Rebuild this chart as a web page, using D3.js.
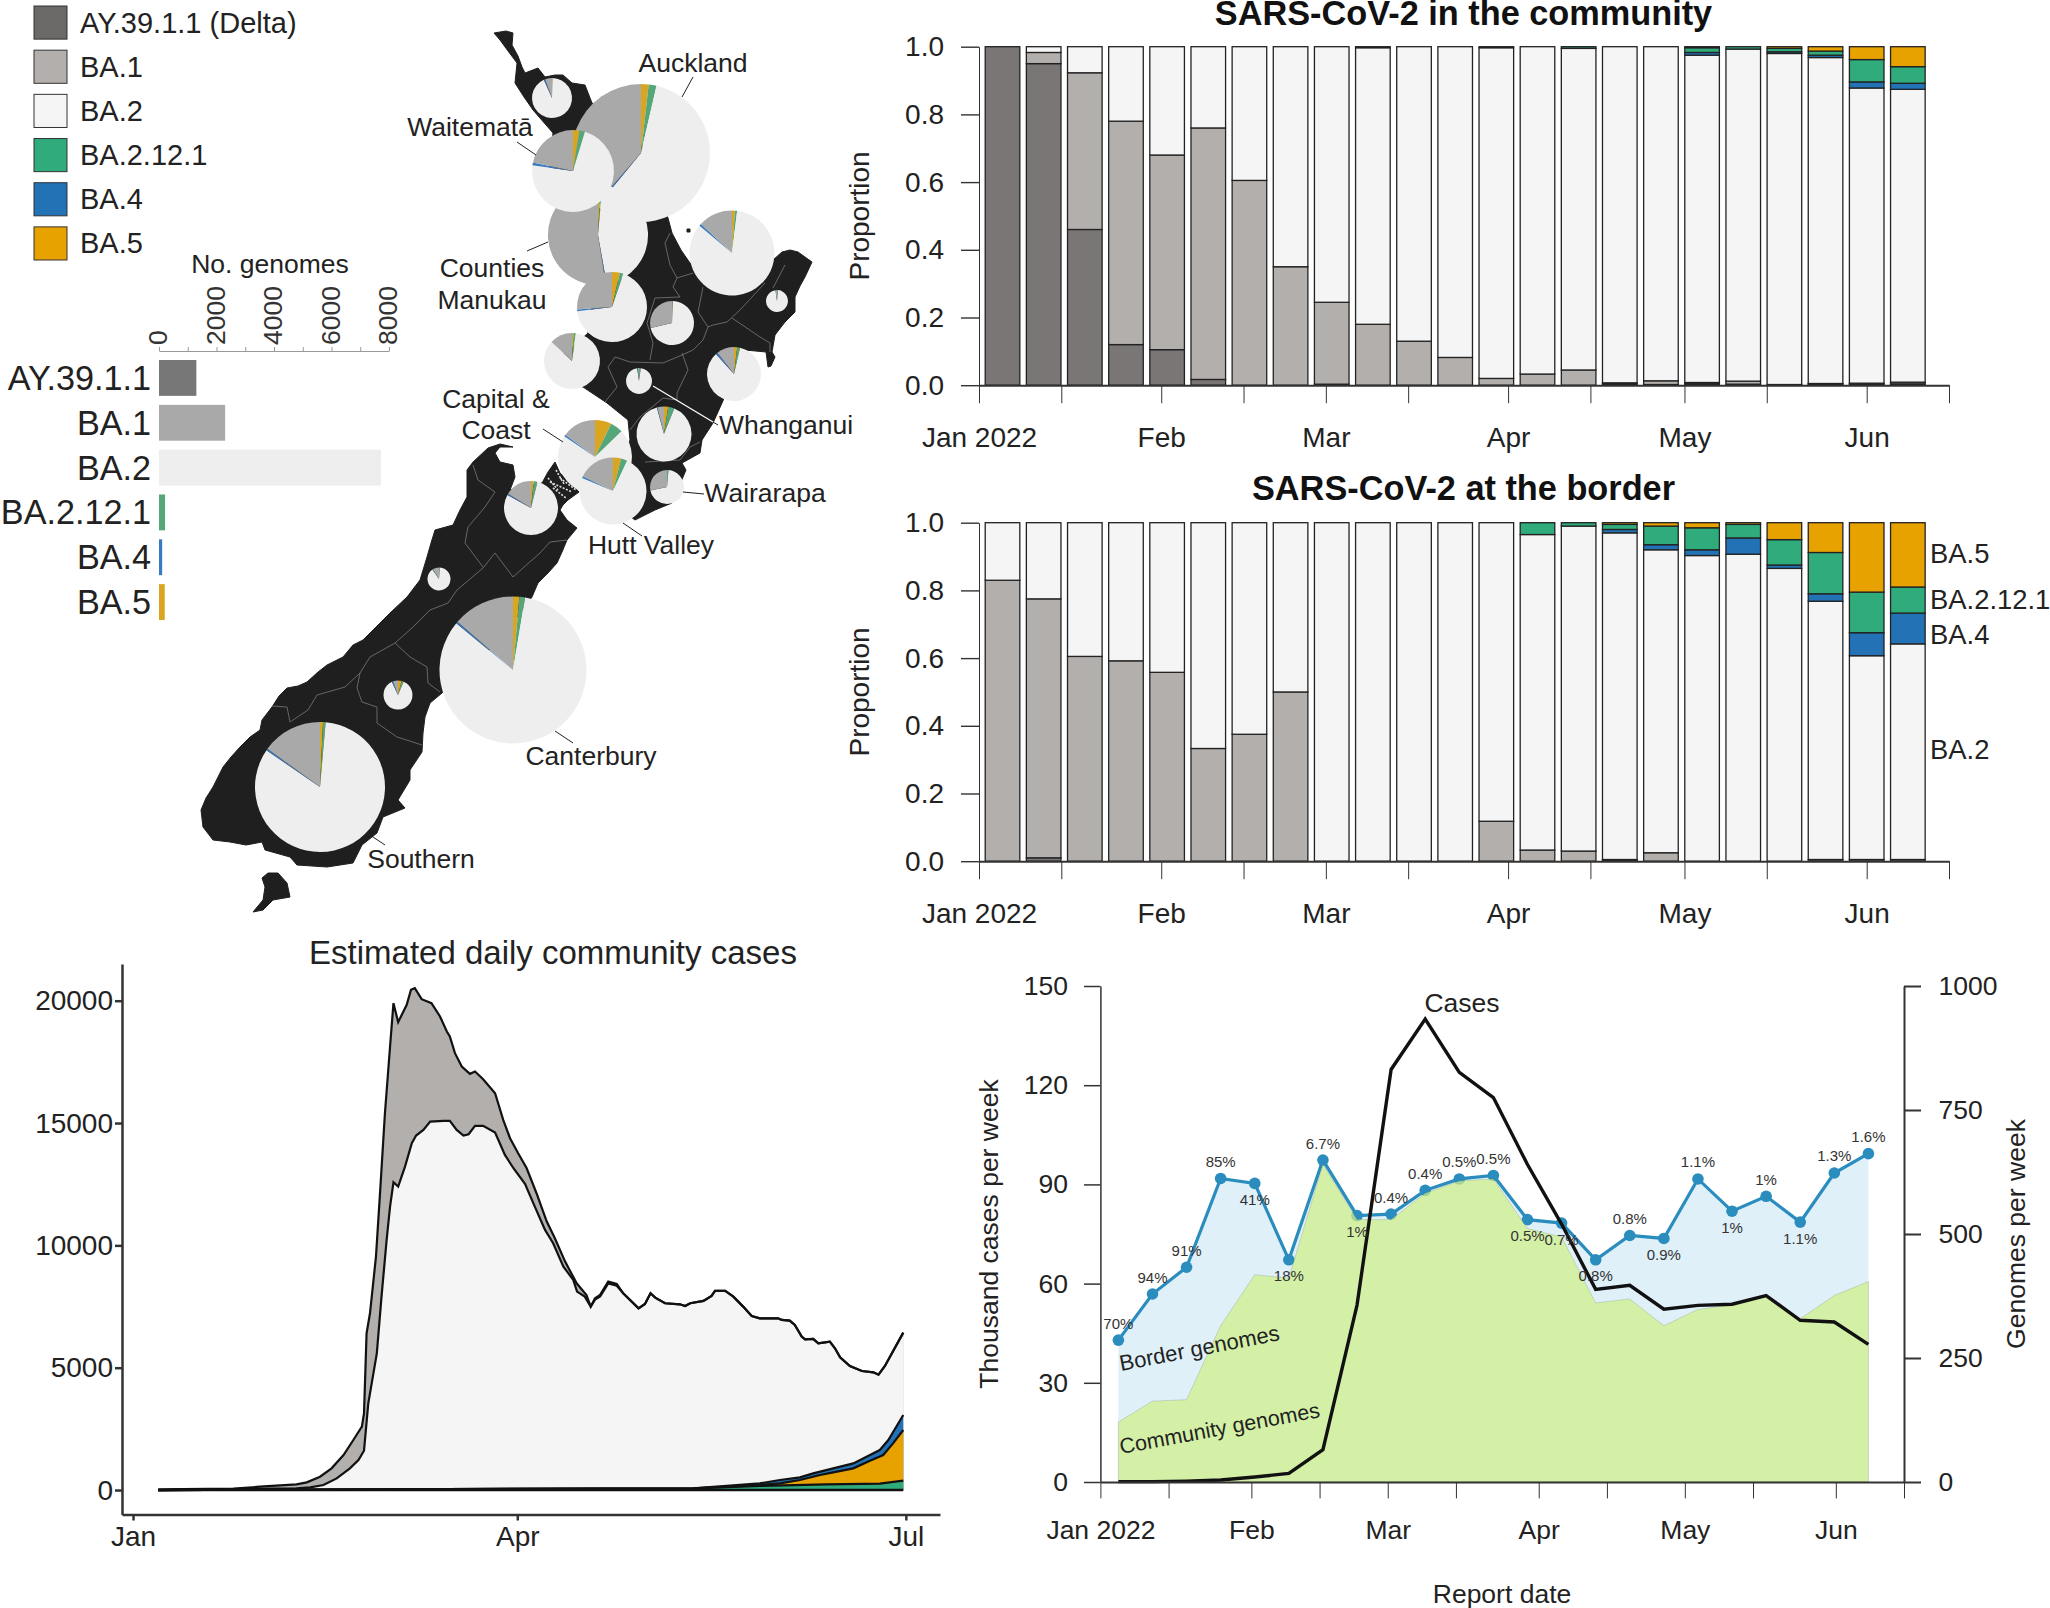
<!DOCTYPE html>
<html>
<head>
<meta charset="utf-8">
<script src="https://cdn.jsdelivr.net/npm/d3@7"></script>
<style>
  html, body { margin: 0; padding: 0; background: #fff; }
  svg { display: block; }
  text { font-family: "Liberation Sans", Arial, sans-serif; fill: #222; }
  .axis path, .axis line { stroke: #333; }
</style>
</head>
<body>
<div id="chart"></div>
<script>
// lineage legend and genome totals
const lineages = ['AY.39.1.1 (Delta)', 'BA.1', 'BA.2', 'BA.2.12.1', 'BA.4', 'BA.5'];
const lineageShort = ['AY.39.1.1', 'BA.1', 'BA.2', 'BA.2.12.1', 'BA.4', 'BA.5'];
const lineageGenomes = [1300, 2300, 7720, 210, 110, 200];
const genomeTicks = [0, 1000, 2000, 3000, 4000, 5000, 6000, 7000, 8000];

// weekly proportions, community
const weeks = ['2022-01-05', '2022-01-12', '2022-01-19', '2022-01-26', '2022-02-02', '2022-02-09', '2022-02-16', '2022-02-23',
  '2022-03-02', '2022-03-09', '2022-03-16', '2022-03-23', '2022-03-30', '2022-04-06', '2022-04-13', '2022-04-20',
  '2022-04-27', '2022-05-04', '2022-05-11', '2022-05-18', '2022-05-25', '2022-06-01', '2022-06-08'];
const commAY = [1, .95, .46, .12, .105, .017, 0, 0, .003, 0, 0, 0, 0, 0, 0, .004, .002, .004, .003, 0, .003, .003, .004];
const commBA1 = [0, .033, .463, .66, .575, .743, .605, .35, .242, .18, .13, .082, .02, .033, .045, .003, .011, .004, .009, .002, .002, .003, .005];
const commBA2 = [0, .017, .077, .22, .32, .24, .395, .65, .755, .817, .87, .918, .977, .967, .95, .993, .987, .967, .981, .978, .963, .872, .865];
const commBA4 = [0, 0, 0, 0, 0, 0, 0, 0, 0, 0, 0, 0, 0, 0, 0, 0, 0, .008, 0, .005, .007, .018, .018];
const commBA212 = [0, 0, 0, 0, 0, 0, 0, 0, 0, .003, 0, 0, .003, 0, .005, 0, 0, .014, .007, .01, .012, .066, .049];
const commBA5 = [0, 0, 0, 0, 0, 0, 0, 0, 0, 0, 0, 0, 0, 0, 0, 0, 0, .003, 0, .005, .013, .038, .059];

// weekly proportions, border
const bordAY = [0, .01, 0, 0, 0, 0, 0, 0, 0, 0, 0, 0, 0, 0, 0, .003, 0, 0, 0, 0, .005, .005, .005];
const bordBA1 = [.83, .765, .605, .592, .558, .333, .375, .5, 0, 0, 0, 0, .118, .033, .03, .002, .025, 0, 0, 0, 0, 0, 0];
const bordBA2 = [.17, .225, .395, .408, .442, .667, .625, .5, 1, 1, 1, 1, .882, .932, .96, .965, .895, .903, .907, .865, .763, .602, .637];
const bordBA4 = [0, 0, 0, 0, 0, 0, 0, 0, 0, 0, 0, 0, 0, 0, 0, .01, .015, .017, .048, .01, .022, .068, .091];
const bordBA212 = [0, 0, 0, 0, 0, 0, 0, 0, 0, 0, 0, 0, 0, .035, .01, .015, .055, .065, .04, .075, .122, .12, .077];
const bordBA5 = [0, 0, 0, 0, 0, 0, 0, 0, 0, 0, 0, 0, 0, 0, 0, .005, .01, .015, .005, .05, .088, .205, .19];

// estimated daily cases (x = days since 1 Jan)
const totalDays = [5.9, 23.5, 29.7, 38.3, 40.7, 43.8, 46.5, 49.3, 51.6, 53.6, 54.1, 54.7, 55.5, 56.9, 57.8, 59, 60.2, 61, 62.1, 64.1, 65.1, 66, 67.6, 69.9, 71.9, 73.5, 74.2, 75.4, 77, 78.9, 80.1, 82, 84.8, 86.7, 88.3, 90.2, 92.2, 94.5, 96.9, 98.8, 101.2, 103.9, 106.2, 107.2, 108.2, 109.4, 111.3, 113.3, 114.8, 118.4, 119.9, 121.2, 122.3, 124.6, 128.1, 129.3, 130.5, 133.6, 135.5, 136.3, 138.7, 140.6, 142.9, 144.9, 146.8, 151.1, 151.9, 153.8, 155, 156.6, 157.4, 159.3, 160.5, 163.2, 164.4, 165.6, 167.9, 170.7, 173.4, 174.6, 176.1, 180.4];
const totalCases = [27, 55, 136, 232, 313, 545, 886, 1431, 2045, 2590, 3135, 6406, 7224, 9541, 11994, 15402, 18128, 19900, 19123, 19832, 20445, 20513, 20063, 19900, 19355, 18741, 18537, 17855, 17310, 17010, 17106, 16792, 16220, 15129, 14380, 13766, 13153, 12131, 10972, 10291, 9337, 8451, 7974, 7497, 7837, 7974, 8519, 8424, 8042, 7428, 7606, 8042, 7864, 7633, 7592, 7524, 7633, 7728, 7933, 8137, 8137, 7905, 7497, 7115, 7020, 7020, 6951, 6924, 6747, 6270, 6161, 6174, 5997, 6065, 5793, 5425, 5070, 4866, 4811, 4716, 5070, 6433];
const ba2Days = [5.9, 38.3, 41.5, 44.6, 47.7, 50.8, 52.8, 54.1, 55.1, 57.1, 58.2, 59.4, 60.2, 61, 62.1, 63.7, 65.3, 66.3, 68, 69.6, 72.7, 74.2, 75.8, 77.4, 78.6, 80.1, 82, 84.8, 87.1, 89.1, 91.8, 94.1, 96.5, 98.4, 100.8, 103.1, 104, 105.8, 107.2, 108.2, 109.4, 111.3, 113.3, 114.8];
const ba2Cases = [0, 68, 109, 204, 477, 886, 1227, 1608, 3544, 5588, 7905, 10222, 11585, 12580, 12403, 13221, 14175, 14489, 14720, 15061, 15088, 15088, 14720, 14489, 14543, 14884, 14884, 14611, 13698, 13153, 12512, 11585, 10631, 10086, 9132, 8587, 8110, 7905, 7497, 7780, 7910, 8440, 8350, 8042];
const ba4Days = [5.9, 131.2, 146.8, 151.5, 156.2, 159.3, 164, 168.7, 172.6, 174.9, 176.9, 180.4];
const ba4Cases = [0, 68, 273, 409, 518, 682, 886, 1090, 1431, 1636, 2045, 3067];
const ba5Days = [5.9, 131.2, 146.8, 151.5, 156.2, 160.9, 164, 168.7, 172.6, 175.7, 178, 180.4];
const ba5Cases = [0, 68, 204, 273, 409, 613, 722, 886, 1199, 1431, 1908, 2453];
const ba212Days = [5.9, 131.2, 146.8, 162.5, 174.9, 180.4];
const ba212Cases = [0, 68, 164, 232, 259, 382];

// genomes and reported cases per week
const borderGenomes = [286, 379, 433, 612, 602, 448, 649, 537, 540, 588, 611, 618, 529, 522, 448, 497, 491, 611, 546, 576, 524, 623, 662];
const communityGenomes = [121, 163, 166, 315, 418, 411, 640, 529, 529, 582, 607, 611, 511, 494, 361, 369, 315, 348, 357, 377, 329, 376, 404];
const weeklyCases = [.1, .1, .25, .6, 1.5, 2.6, 9.75, 53.5, 124.75, 140, 123.9, 116.25, 96, 78, 58.25, 59.5, 52.25, 53.4, 53.75, 56.4, 48.9, 48.4, 41.6];
const samplingLabels = ['70%', '94%', '91%', '85%', '41%', '18%', '6.7%', '1%', '0.4%', '0.4%', '0.5%', '0.5%', '0.5%', '0.7%', '0.8%', '0.8%', '0.9%', '1.1%', '1%', '1%', '1.1%', '1.3%', '1.6%'];
const samplingAbove = [1, 1, 1, 1, 0, 0, 1, 0, 1, 1, 1, 1, 0, 0, 0, 1, 0, 1, 0, 1, 0, 1, 1];

// map
const northIsland = [[494, 33], [506, 31], [513, 33], [512, 45], [518, 56], [522, 67], [525, 73], [538, 68], [545, 77], [555, 75], [563, 75], [572, 83], [585, 85], [592, 103], [640, 140], [668, 218], [672, 233], [681, 250], [690, 263], [730, 280], [763, 283], [769, 270], [773, 260], [782, 252], [790, 250], [798, 252], [812, 262], [805, 277], [800, 286], [795, 297], [795, 312], [785, 322], [775, 335], [772, 352], [775, 357], [771, 366], [768, 367], [766, 352], [745, 350], [722, 403], [713, 423], [702, 440], [700, 453], [682, 463], [686, 470], [672, 503], [655, 510], [635, 520], [615, 505], [620, 465], [630, 440], [628, 420], [607, 403], [583, 387], [560, 380], [555, 360], [575, 345], [588, 333], [592, 303], [585, 270], [570, 235], [548, 190], [553, 133], [533, 110], [524, 97], [515, 83], [517, 63], [508, 51], [500, 40]];
const southIsland = [[467, 470], [473, 462], [488, 448], [500, 444], [513, 447], [500, 447], [495, 453], [500, 462], [513, 465], [515, 477], [510, 490], [542, 483], [548, 472], [555, 462], [560, 473], [570, 482], [579, 492], [568, 500], [563, 505], [560, 510], [567, 520], [577, 528], [567, 540], [562, 552], [557, 563], [548, 573], [538, 583], [532, 597], [500, 640], [442, 693], [430, 703], [425, 717], [423, 733], [422, 752], [410, 770], [410, 780], [398, 800], [405, 808], [383, 817], [377, 833], [362, 845], [353, 863], [327, 867], [297, 865], [290, 857], [265, 850], [262, 842], [246, 845], [230, 842], [213, 840], [203, 827], [201, 810], [206, 798], [213, 787], [223, 767], [231, 757], [240, 747], [250, 737], [260, 730], [262, 720], [272, 707], [279, 696], [287, 688], [298, 686], [307, 682], [318, 672], [327, 665], [343, 657], [353, 645], [363, 640], [373, 630], [390, 613], [407, 597], [420, 580], [427, 557], [431, 543], [435, 530], [453, 525], [460, 510], [467, 497]];
const stewartIsland = [[253, 912], [263, 900], [265, 887], [262, 878], [268, 873], [278, 873], [287, 883], [290, 897], [273, 900], [263, 910]];
const greatBarrier = [[687, 229], [690, 229], [690, 232], [687, 232]];
const regionBoundaries = [
  [[670, 233], [665, 243], [670, 265], [677, 278], [693, 273]],
  [[677, 278], [673, 287], [680, 297], [655, 298], [647, 323], [653, 343], [650, 360]],
  [[703, 287], [698, 312], [708, 327], [703, 340], [693, 350], [682, 355], [663, 363], [630, 362], [615, 357], [608, 367], [617, 387], [605, 402]],
  [[765, 283], [740, 310], [727, 322], [713, 325], [708, 327]],
  [[732, 318], [760, 337], [770, 343], [770, 352]],
  [[785, 265], [773, 288]],
  [[682, 353], [688, 370], [677, 393], [677, 400], [663, 398], [640, 417], [630, 430]],
  [[700, 442], [690, 447], [680, 460], [645, 462]],
  [[395, 643], [413, 627], [430, 610], [448, 603], [457, 590], [483, 568], [495, 553]],
  [[495, 553], [513, 577], [523, 568], [540, 553], [550, 542], [567, 540]],
  [[473, 465], [478, 480], [495, 492], [485, 507], [468, 527], [465, 543], [483, 567]],
  [[395, 643], [370, 657], [360, 673], [345, 687], [317, 695], [308, 710], [290, 722], [287, 707], [272, 706]],
  [[360, 673], [357, 688], [362, 702], [377, 707], [377, 723], [397, 737], [422, 745]],
  [[395, 643], [410, 657], [427, 667], [428, 683], [440, 692]]
];
const soundsSpeckle = [[[556, 470], [564, 484]], [[550, 482], [572, 492]], [[560, 478], [576, 490]], [[553, 488], [566, 498]], [[548, 478], [558, 490]]];

// regions, order is draw order. Shares are degrees of the pie, clockwise from 12 o'clock
const regionX = [552, 641, 598, 573, 612, 672, 732, 777, 572, 639, 734, 664, 595, 613, 667, 531, 439, 513, 398, 320];
const regionY = [98, 153, 235, 171, 307, 323, 253, 301, 361, 381, 374, 434, 457, 491, 487, 508, 579, 670, 695, 787];
const regionGenomes = [160, 1900, 1000, 670, 490, 193, 720, 48, 313, 67, 291, 302, 546, 448, 115, 291, 53, 2156, 84, 1686];
const regionBA5 = [0, 6.4, 3, 9, 13, 1, 4, 0, 3, 0, 7, 9, 26, 14, 0, 6, 0, 5, 15, 2.7];
const regionBA212 = [1, 6.6, 2, 8, 6, 1, 3, 5, 5, 8, 6, 13, 20, 11, 5, 8, 4, 4.5, 8, 2.3];
const regionBA2 = [335, 206.5, 165, 261, 244, 255, 303, 347, 305, 344, 305, 323, 258, 268, 253, 285, 321, 300, 312, 299.5];
const regionBA4 = [4, 1.5, 1, 4, 3, 0, 3, 0, 0, 3, 4, 1, 3, 3, 0, 3, 2, 1.5, 5, 1.5];
const regionBA1 = [20, 139, 189, 78, 94, 103, 47, 8, 47, 5, 38, 14, 53, 64, 102, 58, 33, 49, 20, 54];

// map labels, [x, y of baseline] and leader lines
const mapLabels = ['Auckland', 'Waitematā', 'Counties', 'Manukau', 'Capital &', 'Coast', 'Whanganui', 'Wairarapa', 'Hutt Valley', 'Canterbury', 'Southern'];
const mapLabelPos = [[693, 72], [470, 136], [492, 277], [492, 309], [496, 408], [496, 439], [786, 434], [765, 502], [651, 554], [591, 765], [421, 868]];
const leaderLines = [[[693, 77], [682, 97]], [[517, 142], [536, 155]], [[527, 251], [548, 242]], [[543, 429], [563, 442]], [[713, 422], [718, 425]], [[683, 492], [704, 494]], [[623, 523], [642, 536]], [[555, 731], [573, 743]], [[367, 833], [385, 845]]];
const whanganuiLeader = [[[653, 386], [713, 422]]];

const monthLabels = ['Jan 2022', 'Feb', 'Mar', 'Apr', 'May', 'Jun'];
const axisDates = ['2022-01-01', '2022-01-15', '2022-02-01', '2022-02-15', '2022-03-01', '2022-03-15', '2022-04-01', '2022-04-15', '2022-05-01', '2022-05-15', '2022-06-01', '2022-06-15'];
const proportionTicks = [0, .2, .4, .6, .8, 1];
const casesTicks = [0, 5000, 10000, 15000, 20000];
const thousandTicks = [0, 30, 60, 90, 120, 150];
const genomesTicks = [0, 250, 500, 750, 1000];
const dayTicks = [0, 90, 181];
const dayLabels = ['Jan', 'Apr', 'Jul'];
const sideLabels = ['BA.5', 'BA.2.12.1', 'BA.4', 'BA.2'];
const sideLabelValues = [.91, .775, .67, .33];

const barColors = { AY: '#7a7676', BA1: '#b3afad', BA2: '#f5f5f5', BA212: '#30ab7b', BA4: '#2272b5', BA5: '#e8a200' };
const pieColors = { BA5: '#daa520', BA212: '#55a678', BA2: '#eeeeee', BA4: '#3a7abf', BA1: '#a9a9a9' };
const legendColors = ['#6b6868', '#b3afad', '#f5f5f5', '#30ab7b', '#2272b5', '#e8a200'];
const lineageBarColors = ['#777777', '#a9a9a9', '#eeeeee', '#55a678', '#3a7abf', '#daa520'];

const width = 2050;
const height = 1608;
const parseDay = d3.timeParse('%Y-%m-%d');

const svg = d3.select('#chart')
  .append('svg')
  .attr('width', width)
  .attr('height', height);

const styleAxis = (g, size) => {
  g.attr('class', 'axis');
  g.selectAll('text').attr('font-size', size).style('fill', '#222');
  return g;
};

// legend
const plotLegend = () => {
  const legendY = d3.scaleBand().domain(lineages).range([6, 260]).paddingInner(0.25).paddingOuter(0);
  const rows = svg.append('g').selectAll('g')
    .data(lineages)
    .enter()
    .append('g')
    .attr('transform', d => 'translate(34,' + legendY(d) + ')');
  rows.append('rect')
    .attr('width', 33)
    .attr('height', legendY.bandwidth())
    .attr('fill', (d, i) => legendColors[i])
    .attr('stroke', '#333')
    .attr('stroke-width', 1);
  rows.append('text')
    .attr('x', 46)
    .attr('y', legendY.bandwidth() / 2 + 10)
    .attr('font-size', 29)
    .text(d => d);
};

// no. genomes bars
const plotGenomeBars = () => {
  const x = d3.scaleLinear().domain([0, 8000]).range([159, 389]);
  const y = d3.scaleBand().domain(lineageShort).range([360, 620]).paddingInner(0.2).paddingOuter(0);
  svg.append('g').selectAll('rect')
    .data(lineageShort)
    .enter()
    .append('rect')
    .attr('x', x(0))
    .attr('y', d => y(d))
    .attr('width', (d, i) => x(lineageGenomes[i]) - x(0))
    .attr('height', y.bandwidth())
    .attr('fill', (d, i) => lineageBarColors[i]);
  svg.append('g').selectAll('text')
    .data(lineageShort)
    .enter()
    .append('text')
    .attr('x', 151)
    .attr('y', d => y(d) + y.bandwidth() / 2 + 12)
    .attr('text-anchor', 'end')
    .attr('font-size', 34.2)
    .text(d => d);
  const axis = svg.append('g')
    .attr('transform', 'translate(0,351)')
    .call(d3.axisTop(x).tickValues(genomeTicks).tickSize(4).tickSizeOuter(0)
      .tickFormat(d => d % 2000 === 0 ? d : ''));
  axis.select('.domain').attr('stroke', '#999');
  axis.selectAll('line').attr('stroke', '#999');
  axis.selectAll('text')
    .attr('font-size', 26.5)
    .attr('transform', 'rotate(-90)')
    .attr('text-anchor', 'start')
    .attr('x', 6)
    .attr('y', 0)
    .attr('dy', '0.3em')
    .style('fill', '#333');
  svg.append('text')
    .attr('x', 270)
    .attr('y', 273)
    .attr('text-anchor', 'middle')
    .attr('font-size', 26.5)
    .text('No. genomes');
};

// map with pies
const plotMap = () => {
  const projection = d3.geoIdentity();
  const path = d3.geoPath(projection);
  const ring = pts => pts.concat([pts[0]]);
  const land = [northIsland, southIsland, stewartIsland, greatBarrier]
    .map(pts => ({ type: 'Polygon', coordinates: [ring(pts)] }));
  const g = svg.append('g');
  g.selectAll('path.land')
    .data(land)
    .enter()
    .append('path')
    .attr('class', 'land')
    .attr('d', path)
    .attr('fill', '#1f1f1f')
    .attr('stroke', '#1f1f1f')
    .attr('stroke-width', 1);
  g.selectAll('path.boundary')
    .data(regionBoundaries)
    .enter()
    .append('path')
    .attr('class', 'boundary')
    .attr('d', d => path({ type: 'LineString', coordinates: d }))
    .attr('fill', 'none')
    .attr('stroke', '#6e6e6e')
    .attr('stroke-width', 0.9);
  g.selectAll('path.speckle')
    .data(soundsSpeckle)
    .enter()
    .append('path')
    .attr('class', 'speckle')
    .attr('d', d => path({ type: 'LineString', coordinates: d }))
    .attr('stroke', '#ddd')
    .attr('stroke-width', 1.6)
    .attr('stroke-dasharray', '2 1.5');

  const radius = d3.scaleSqrt().domain([0, 2156]).range([0, 73.5]);
  const pie = d3.pie().sort(null).value(d => d.share);
  const pieKeys = ['BA5', 'BA212', 'BA2', 'BA4', 'BA1'];
  const shares = [regionBA5, regionBA212, regionBA2, regionBA4, regionBA1];
  regionX.forEach((rx, i) => {
    const slices = pieKeys.map((key, k) => ({ key: key, share: shares[k][i] }));
    const arc = d3.arc().innerRadius(0).outerRadius(radius(regionGenomes[i]));
    const p = projection([rx, regionY[i]]);
    g.append('g')
      .attr('transform', 'translate(' + p[0] + ',' + p[1] + ')')
      .selectAll('path')
      .data(pie(slices))
      .enter()
      .append('path')
      .attr('d', arc)
      .attr('fill', d => pieColors[d.data.key]);
  });

  g.selectAll('path.leader')
    .data(leaderLines)
    .enter()
    .append('path')
    .attr('class', 'leader')
    .attr('d', d => path({ type: 'LineString', coordinates: d }))
    .attr('stroke', '#222')
    .attr('stroke-width', 1);
  g.selectAll('path.leaderWhite')
    .data(whanganuiLeader)
    .enter()
    .append('path')
    .attr('class', 'leaderWhite')
    .attr('d', d => path({ type: 'LineString', coordinates: d }))
    .attr('stroke', '#fff')
    .attr('stroke-width', 1.2);
  g.selectAll('text')
    .data(mapLabels)
    .enter()
    .append('text')
    .attr('x', (d, i) => projection(mapLabelPos[i])[0])
    .attr('y', (d, i) => projection(mapLabelPos[i])[1])
    .attr('text-anchor', 'middle')
    .attr('font-size', 26.5)
    .text(d => d);
};

// proportion stacked bars
const plotProportions = (top, series, title, titleY) => {
  const x = d3.scaleTime().domain([parseDay('2022-01-01'), parseDay('2022-06-15')]).range([979, 1949]);
  const y = d3.scaleLinear().domain([0, 1]).range([top + 338.5, top]);
  const keys = ['AY', 'BA1', 'BA2', 'BA4', 'BA212', 'BA5'];
  const rows = weeks.map((w, i) => {
    const row = { week: parseDay(w) };
    keys.forEach((k, j) => { row[k] = series[j][i]; });
    return row;
  });
  const stacked = d3.stack().keys(keys)(rows);
  const barWidth = 34.6;
  svg.append('g').selectAll('g')
    .data(stacked)
    .enter()
    .append('g')
    .attr('fill', d => barColors[d.key])
    .selectAll('rect')
    .data(d => d.filter(s => s[1] - s[0] > 0))
    .enter()
    .append('rect')
    .attr('x', d => x(d.data.week) - barWidth / 2)
    .attr('y', d => y(d[1]))
    .attr('width', barWidth)
    .attr('height', d => y(d[0]) - y(d[1]))
    .attr('stroke', '#222')
    .attr('stroke-width', 1.3);

  const xAxis = svg.append('g')
    .attr('transform', 'translate(0,' + y(0) + ')')
    .call(d3.axisBottom(x).tickValues(axisDates.map(parseDay)).tickSize(18).tickPadding(24).tickSizeOuter(0)
      .tickFormat((d, i) => i % 2 === 0 ? monthLabels[i / 2] : ''));
  styleAxis(xAxis, 28);
  xAxis.select('.domain').attr('stroke-width', 2);
  const yAxis = svg.append('g')
    .attr('transform', 'translate(979,0)')
    .call(d3.axisLeft(y).tickValues(proportionTicks).tickSize(18).tickPadding(17).tickSizeOuter(0)
      .tickFormat(d3.format('.1f')));
  styleAxis(yAxis, 28);
  yAxis.selectAll('line').attr('stroke-width', 1.4);

  svg.append('text')
    .attr('transform', 'translate(869,' + (y(0.5)) + ') rotate(-90)')
    .attr('text-anchor', 'middle')
    .attr('font-size', 28)
    .text('Proportion');
  svg.append('text')
    .attr('x', 1463.5)
    .attr('y', titleY)
    .attr('text-anchor', 'middle')
    .attr('font-size', 34.3)
    .attr('font-weight', 'bold')
    .style('fill', '#111')
    .text(title);
  return y;
};

// estimated daily community cases
const plotDaily = () => {
  const x = d3.scaleLinear().domain([-2.58, 189]).range([122, 940]);
  const y = d3.scaleLinear().domain([-1000, 21500]).range([1514.5, 964]);
  const area = d3.area().x(d => x(d[0])).y0(y(0)).y1(d => y(d[1]));
  const line = d3.line().x(d => x(d[0])).y(d => y(d[1]));
  const pairs = (days, values) => days.map((d, i) => [d, values[i]]);
  const total = pairs(totalDays, totalCases);
  // after mid April BA.1 is gone and the BA.2 top runs along the total
  const ba2 = pairs(ba2Days, ba2Cases).concat(total.filter(d => d[0] > ba2Days[ba2Days.length - 1]));
  const layers = [
    { data: total, fill: barColors.BA1 },
    { data: ba2, fill: barColors.BA2 },
    { data: pairs(ba4Days, ba4Cases), fill: barColors.BA4 },
    { data: pairs(ba5Days, ba5Cases), fill: barColors.BA5 },
    { data: pairs(ba212Days, ba212Cases), fill: barColors.BA212 }
  ];
  const g = svg.append('g');
  g.selectAll('path.layer')
    .data(layers)
    .enter()
    .append('path')
    .attr('class', 'layer')
    .attr('d', d => area(d.data))
    .attr('fill', d => d.fill);
  g.selectAll('path.edge')
    .data(layers)
    .enter()
    .append('path')
    .attr('class', 'edge')
    .attr('d', d => line(d.data))
    .attr('fill', 'none')
    .attr('stroke', '#111')
    .attr('stroke-width', 2.2);
  g.append('path')
    .attr('d', line([[totalDays[0], 0], [totalDays[totalDays.length - 1], 0]]))
    .attr('stroke', '#111')
    .attr('stroke-width', 2.4);

  const xAxis = svg.append('g')
    .attr('transform', 'translate(0,1514.5)')
    .call(d3.axisBottom(x).tickValues(dayTicks).tickSize(6).tickPadding(5.6).tickSizeOuter(0)
      .tickFormat((d, i) => dayLabels[i]));
  styleAxis(xAxis, 28);
  xAxis.selectAll('path, line').attr('stroke-width', 2.5);
  const yAxis = svg.append('g')
    .attr('transform', 'translate(122,0)')
    .call(d3.axisLeft(y).tickValues(casesTicks).tickSize(7).tickPadding(2).tickSizeOuter(0)
      .tickFormat(d3.format('d')));
  styleAxis(yAxis, 28);
  yAxis.selectAll('path, line').attr('stroke-width', 2.5);

  svg.append('text')
    .attr('x', 553)
    .attr('y', 963.5)
    .attr('text-anchor', 'middle')
    .attr('font-size', 33)
    .text('Estimated daily community cases');
};

// weekly genomes and cases
const plotGenomes = () => {
  const x = d3.scaleTime().domain([parseDay('2022-01-01'), parseDay('2022-06-15')]).range([1100.4, 1904]);
  const yCases = d3.scaleLinear().domain([0, 150]).range([1482, 986]);
  const yGenomes = d3.scaleLinear().domain([0, 1000]).range([1482, 986]);
  const wx = w => x(parseDay(w)) - 1.5;
  const borderArea = d3.area().x(d => wx(d)).y0(yGenomes(0)).y1((d, i) => yGenomes(borderGenomes[i]));
  const communityArea = d3.area().x(d => wx(d)).y0(yGenomes(0)).y1((d, i) => yGenomes(communityGenomes[i]));

  svg.append('path')
    .attr('d', borderArea(weeks))
    .attr('fill', '#dff0f9');
  const borderLine = d3.line().x(d => wx(d)).y((d, i) => yGenomes(borderGenomes[i]));
  svg.append('path')
    .attr('d', borderLine(weeks))
    .attr('fill', 'none')
    .attr('stroke', '#2b8cbe')
    .attr('stroke-width', 3.2);
  svg.append('g').selectAll('circle')
    .data(weeks)
    .enter()
    .append('circle')
    .attr('cx', d => wx(d))
    .attr('cy', (d, i) => yGenomes(borderGenomes[i]))
    .attr('r', 5.8)
    .attr('fill', '#2b8cbe');
  svg.append('path')
    .attr('d', communityArea(weeks))
    .attr('fill', 'rgba(208,240,134,0.72)')
    .attr('stroke', 'rgba(90,110,90,0.22)')
    .attr('stroke-width', 1);

  const casesLine = d3.line().x(d => wx(d)).y((d, i) => yCases(weeklyCases[i]));
  svg.append('path')
    .attr('d', casesLine(weeks))
    .attr('fill', 'none')
    .attr('stroke', '#111')
    .attr('stroke-width', 3.4);

  svg.append('g').selectAll('text')
    .data(samplingLabels)
    .enter()
    .append('text')
    .attr('x', (d, i) => wx(weeks[i]))
    .attr('y', (d, i) => yGenomes(borderGenomes[i]) + (samplingAbove[i] ? -16.5 : 16.5) + 5)
    .attr('text-anchor', 'middle')
    .attr('font-size', 15)
    .style('fill', '#333')
    .text(d => d);

  const xAxis = svg.append('g')
    .attr('transform', 'translate(0,1482)')
    .call(d3.axisBottom(x).tickValues(axisDates.map(parseDay)).tickSize(16.4).tickPadding(21.3).tickSizeOuter(0)
      .tickFormat((d, i) => i % 2 === 0 ? monthLabels[i / 2] : ''));
  styleAxis(xAxis, 26.5);
  xAxis.select('.domain').attr('stroke-width', 2);
  const leftAxis = svg.append('g')
    .attr('transform', 'translate(1100.4,0)')
    .call(d3.axisLeft(yCases).tickValues(thousandTicks).tickSize(16.4).tickPadding(16).tickSizeOuter(0));
  styleAxis(leftAxis, 26.5);
  leftAxis.selectAll('path, line').attr('stroke-width', 1.5);
  const rightAxis = svg.append('g')
    .attr('transform', 'translate(1904,0)')
    .call(d3.axisRight(yGenomes).tickValues(genomesTicks).tickSize(17).tickPadding(17.6).tickSizeOuter(0)
      .tickFormat(d3.format('d')));
  styleAxis(rightAxis, 26.5);
  rightAxis.selectAll('path, line').attr('stroke-width', 2);

  svg.append('text')
    .attr('x', 1462)
    .attr('y', 1012)
    .attr('text-anchor', 'middle')
    .attr('font-size', 26.5)
    .text('Cases');
  svg.append('text')
    .attr('x', 1502)
    .attr('y', 1603)
    .attr('text-anchor', 'middle')
    .attr('font-size', 26.5)
    .text('Report date');
  svg.append('text')
    .attr('transform', 'translate(998,1234) rotate(-90)')
    .attr('text-anchor', 'middle')
    .attr('font-size', 26.5)
    .text('Thousand cases per week');
  svg.append('text')
    .attr('transform', 'translate(2025,1234) rotate(-90)')
    .attr('text-anchor', 'middle')
    .attr('font-size', 26.5)
    .text('Genomes per week');
  svg.append('text')
    .attr('transform', 'translate(1121,1371) rotate(-11)')
    .attr('font-size', 22)
    .text('Border genomes');
  svg.append('text')
    .attr('transform', 'translate(1121,1454) rotate(-10.5)')
    .attr('font-size', 21.5)
    .text('Community genomes');
};

plotLegend();
plotGenomeBars();
plotMap();
plotProportions(46.7, [commAY, commBA1, commBA2, commBA4, commBA212, commBA5], 'SARS-CoV-2 in the community', 25);
const borderY = plotProportions(522.7, [bordAY, bordBA1, bordBA2, bordBA4, bordBA212, bordBA5], 'SARS-CoV-2 at the border', 500);
svg.append('g').selectAll('text')
  .data(sideLabels)
  .enter()
  .append('text')
  .attr('x', 1930)
  .attr('y', (d, i) => borderY(sideLabelValues[i]) + 10)
  .attr('font-size', 27.4)
  .text(d => d);
plotDaily();
plotGenomes();
</script>
</body>
</html>
